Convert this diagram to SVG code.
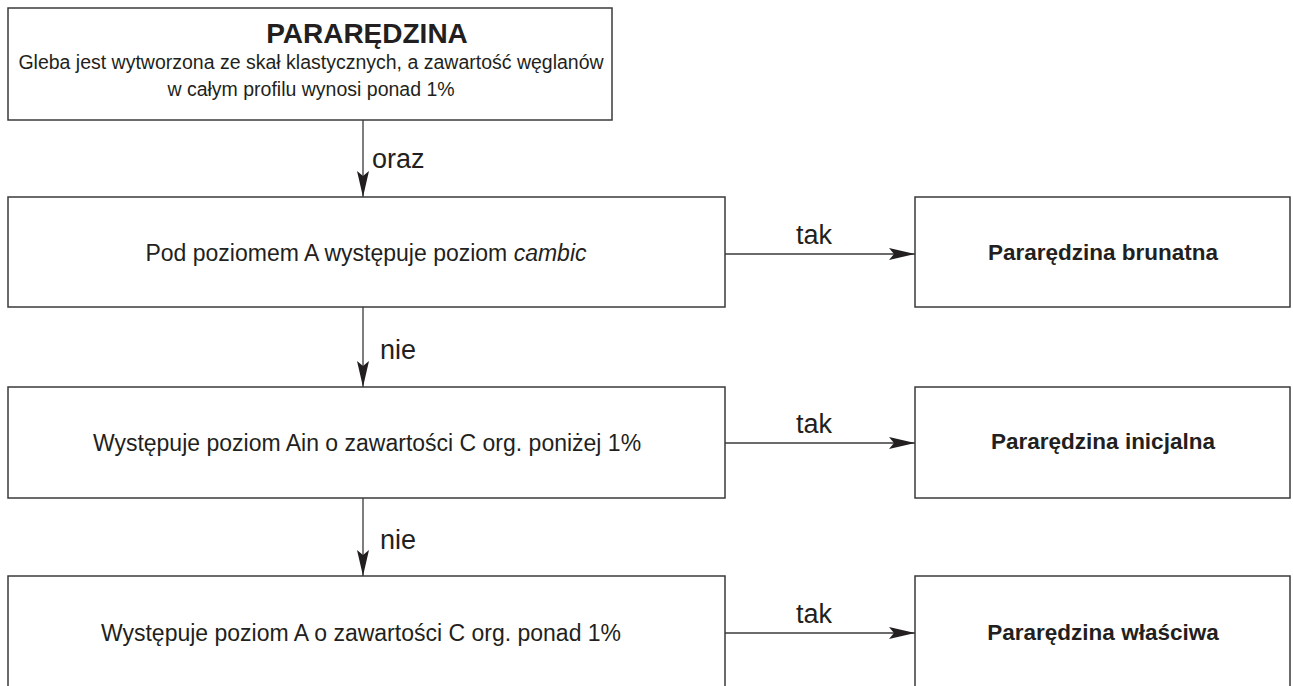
<svg xmlns="http://www.w3.org/2000/svg" width="1293" height="686" viewBox="0 0 1293 686">
<style>
.box{fill:#fff;stroke:#3a3a3a;stroke-width:1.5}
.t{font-family:"Liberation Sans",Arial,sans-serif;fill:#231f20;text-anchor:middle}
.n{font-size:23px}
.b{font-size:22.5px;font-weight:bold}
.lbl{font-family:"Liberation Sans",Arial,sans-serif;fill:#231f20;font-size:27px}
.c{stroke:#3a3a3a;stroke-width:1.3;fill:none}
</style>
<defs>
<marker id="ah" markerWidth="26" markerHeight="12" refX="26" refY="6" orient="auto" markerUnits="userSpaceOnUse">
<path d="M0,0 L26,6 L0,12 L5,6 Z" fill="#231f20"/>
</marker>
</defs>
<rect width="1293" height="686" fill="#fff"/>
<g id="n-root">
<rect class="box" x="8" y="8" width="604" height="112"/>
<text class="t" x="367" y="43" font-size="28" font-weight="bold">PARARĘDZINA</text>
<text class="t" x="311" y="69" font-size="19.5">Gleba jest wytworzona ze skał klastycznych, a zawartość węglanów</text>
<text class="t" x="311" y="96" font-size="19.5">w całym profilu wynosi ponad 1%</text>
</g>
<g id="n-q1">
<rect class="box" x="8" y="197" width="717" height="110"/>
<text class="t n" x="366" y="261">Pod poziomem A występuje poziom <tspan font-style="italic">cambic</tspan></text>
</g>
<g id="n-r1">
<rect class="box" x="915" y="197" width="375" height="110"/>
<text class="t b" x="1103" y="260">Pararędzina brunatna</text>
</g>
<g id="n-q2">
<rect class="box" x="8" y="387" width="717" height="111"/>
<text class="t n" x="367" y="451">Występuje poziom Ain o zawartości C org. poniżej 1%</text>
</g>
<g id="n-r2">
<rect class="box" x="915" y="387" width="375" height="111"/>
<text class="t b" x="1103" y="449">Pararędzina inicjalna</text>
</g>
<g id="n-q3">
<rect class="box" x="8" y="576" width="717" height="120"/>
<text class="t n" x="361" y="641">Występuje poziom A o zawartości C org. ponad 1%</text>
</g>
<g id="n-r3">
<rect class="box" x="915" y="576" width="375" height="120"/>
<text class="t b" x="1103" y="640">Pararędzina właściwa</text>
</g>
<g id="connectors">
<line class="c" x1="363" y1="120" x2="363" y2="197" marker-end="url(#ah)"/>
<text class="lbl" x="372" y="168">oraz</text>
<line class="c" x1="363" y1="307" x2="363" y2="387" marker-end="url(#ah)"/>
<text class="lbl" x="380" y="359">nie</text>
<line class="c" x1="363" y1="498" x2="363" y2="576" marker-end="url(#ah)"/>
<text class="lbl" x="380" y="549">nie</text>
<line class="c" x1="725" y1="254" x2="915" y2="254" marker-end="url(#ah)"/>
<text class="lbl" x="814" y="244" text-anchor="middle">tak</text>
<line class="c" x1="725" y1="443" x2="915" y2="443" marker-end="url(#ah)"/>
<text class="lbl" x="814" y="433" text-anchor="middle">tak</text>
<line class="c" x1="725" y1="633" x2="915" y2="633" marker-end="url(#ah)"/>
<text class="lbl" x="814" y="623" text-anchor="middle">tak</text>
</g>
</svg>
